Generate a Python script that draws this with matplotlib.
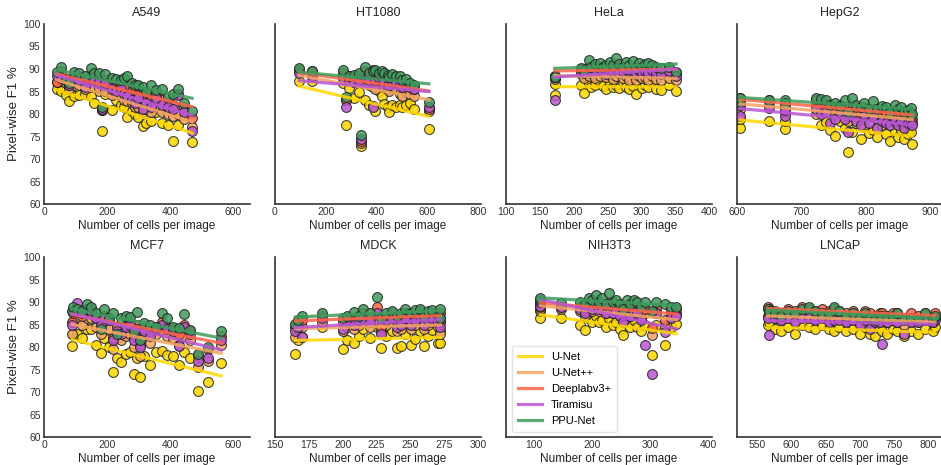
import numpy as np
import matplotlib.pyplot as plt
from matplotlib.lines import Line2D

plt.rcParams['font.family'] = ['Liberation Sans', 'DejaVu Sans']

models = ['U-Net', 'U-Net++', 'Deeplabv3+', 'Tiramisu', 'PPU-Net']
colors = ['gold', 'sandybrown', 'tomato', 'mediumorchid', '#3f9a5c']

# ---- data (cells per image, pixel-wise F1 %) ----
a549_cells = [40, 55, 70, 80, 95, 110, 130, 150, 160, 175, 185, 195, 215, 230, 245,
              255, 265, 280, 290, 300, 315, 325, 340, 355, 375, 395, 410, 425, 445, 470]
a549_f1 = {
    'U-Net': [85.5, 85.0, 84.2, 82.8, 84.0, 84.2, 84.5, 84.0, 82.5, 85.2, 76.2, 84.5, 80.8, 83.0, 82.0,
              81.5, 79.3, 80.6, 80.0, 79.4, 77.3, 78.0, 78.5, 80.5, 78.0, 77.5, 74.0, 77.5, 79.8, 73.8],
    'U-Net++': [87.0, 87.5, 86.8, 85.5, 86.5, 86.5, 85.5, 86.0, 86.0, 85.8, 80.8, 85.2, 84.2, 84.5, 84.0,
                83.2, 82.8, 82.5, 81.5, 81.5, 80.5, 81.0, 80.5, 81.8, 80.5, 80.0, 79.5, 80.0, 79.0, 77.2],
    'Deeplabv3+': [87.2, 89.5, 87.8, 86.5, 88.5, 88.5, 87.5, 88.6, 88.0, 87.2, 80.8, 87.5, 86.5, 86.0, 86.5,
                   85.5, 86.5, 85.2, 85.0, 84.2, 84.5, 83.5, 84.0, 84.5, 83.2, 82.5, 82.0, 84.5, 81.5, 79.2],
    'Tiramisu': [88.5, 88.0, 87.5, 86.5, 88.0, 87.5, 86.0, 88.0, 87.5, 87.0, 81.2, 86.8, 85.5, 85.0, 85.5,
                 84.5, 84.0, 83.0, 82.5, 83.5, 81.0, 82.5, 81.5, 83.5, 82.0, 81.5, 81.0, 84.3, 80.5, 76.2],
    'PPU-Net': [89.3, 90.5, 87.5, 86.8, 89.3, 89.0, 88.5, 90.2, 89.0, 89.1, 81.5, 88.8, 88.0, 87.8, 87.5,
                88.0, 88.4, 86.8, 86.5, 86.5, 86.0, 84.8, 86.5, 85.3, 85.5, 83.8, 84.5, 85.6, 82.5, 80.6],
}

ht1080_cells = [95, 144, 268, 281, 290, 310, 330, 340, 355, 370, 385, 395, 410, 420, 430,
                445, 450, 460, 475, 490, 500, 515, 530, 545, 605]
ht1080_f1 = {
    'U-Net': [87.4, 87.4, 86.9, 77.6, 85.8, 83.5, 84.8, 72.8, 83.2, 82.0, 81.7, 80.7, 85.0, 84.0, 82.3,
              81.5, 80.5, 82.0, 81.5, 82.0, 81.5, 82.0, 82.5, 81.2, 76.7],
    'U-Net++': [89.5, 89.0, 88.5, 83.0, 87.5, 87.0, 87.5, 73.5, 87.0, 86.5, 86.0, 85.5, 87.5, 87.0, 86.0,
                85.5, 85.0, 86.0, 85.5, 84.5, 84.0, 85.0, 84.5, 84.0, 80.6],
    'Deeplabv3+': [89.8, 89.5, 89.0, 83.2, 88.5, 88.0, 88.5, 74.0, 89.5, 88.0, 89.8, 88.5, 88.5, 88.0, 87.5,
                   87.0, 86.5, 87.5, 87.5, 86.5, 86.0, 86.5, 86.0, 85.5, 81.0],
    'Tiramisu': [89.0, 88.5, 88.0, 81.6, 87.5, 87.0, 87.5, 74.5, 88.0, 87.5, 81.6, 87.5, 88.0, 87.5, 87.0,
                 86.5, 86.5, 87.0, 87.0, 86.5, 86.0, 86.5, 86.0, 85.5, 81.6],
    'PPU-Net': [90.2, 89.6, 89.8, 83.8, 88.5, 88.6, 89.0, 75.3, 90.5, 89.0, 89.5, 89.8, 89.0, 89.5, 89.0,
                88.6, 88.2, 88.8, 88.5, 88.4, 87.5, 87.8, 86.8, 86.5, 82.6],
}

hela_cells = [172, 172, 210, 215, 222, 226, 232, 238, 243, 248, 253, 258, 262, 267,
              272, 277, 282, 287, 292, 296, 300, 305, 310, 315, 322, 328, 340, 351]
hela_f1 = {
    'U-Net': [86.7, 84.3, 86.5, 84.7, 86.8, 86.0, 86.5, 87.0, 86.2, 85.5, 86.8, 86.0, 86.5, 85.8,
              87.2, 86.0, 85.5, 86.3, 84.5, 86.8, 85.8, 86.5, 86.0, 87.0, 85.5, 85.3, 86.5, 85.2],
    'U-Net++': [88.0, 87.8, 88.8, 88.0, 88.5, 89.0, 88.0, 88.5, 89.0, 88.2, 88.8, 87.8, 88.5, 89.0,
                88.0, 88.5, 87.5, 88.8, 87.5, 88.5, 88.0, 88.2, 87.5, 88.5, 87.8, 87.5, 88.0, 87.5],
    'Deeplabv3+': [88.4, 88.2, 90.0, 89.5, 90.5, 90.0, 89.8, 90.5, 90.0, 89.5, 90.2, 90.0, 90.5, 89.8,
                   90.0, 90.5, 89.5, 90.0, 89.5, 90.2, 89.8, 90.0, 89.5, 90.0, 89.5, 89.2, 89.8, 89.0],
    'Tiramisu': [88.2, 83.0, 89.5, 89.0, 90.0, 89.5, 89.5, 90.0, 89.5, 88.8, 89.8, 89.5, 90.0, 89.2,
                 89.5, 90.0, 89.8, 89.5, 89.0, 89.8, 89.2, 89.5, 89.0, 89.8, 89.2, 88.8, 89.5, 88.5],
    'PPU-Net': [88.5, 88.3, 90.2, 89.8, 91.9, 90.5, 91.0, 91.3, 90.5, 90.8, 91.5, 90.8, 92.4, 91.0,
                90.5, 91.5, 90.8, 91.7, 90.2, 91.3, 90.5, 91.0, 91.3, 90.8, 90.5, 90.2, 90.5, 89.3],
}

hepg2_cells = [605, 605, 650, 675, 675, 722, 730, 738, 745, 752, 760, 768, 772, 778, 785,
               792, 798, 805, 812, 818, 825, 832, 838, 845, 850, 855, 860, 865, 870, 872]
hepg2_f1 = {
    'U-Net': [76.9, 79.0, 78.4, 76.7, 78.5, 80.0, 77.5, 78.2, 76.5, 75.2, 78.5, 77.0, 71.5, 76.0, 78.0,
              74.5, 77.2, 75.8, 76.5, 75.0, 77.5, 75.5, 74.0, 76.2, 75.0, 76.5, 74.5, 75.5, 76.0, 73.3],
    'U-Net++': [81.0, 82.5, 82.0, 80.5, 81.5, 82.0, 81.0, 81.5, 80.5, 80.0, 81.0, 80.5, 78.5, 80.0, 80.5,
                79.0, 80.5, 79.5, 80.0, 79.0, 80.0, 79.5, 78.5, 79.5, 79.0, 79.0, 78.5, 79.0, 79.0, 78.0],
    'Deeplabv3+': [82.0, 83.5, 83.0, 81.5, 82.5, 83.0, 82.0, 82.5, 81.5, 81.0, 82.0, 81.5, 79.5, 81.0, 81.5,
                   80.0, 81.5, 80.5, 81.0, 80.0, 81.0, 80.5, 79.5, 80.5, 80.0, 80.0, 79.5, 80.0, 80.0, 79.0],
    'Tiramisu': [79.6, 82.0, 81.3, 79.6, 80.8, 81.0, 80.0, 80.5, 78.0, 79.0, 80.5, 79.0, 76.0, 79.5, 78.5,
                 77.5, 80.0, 78.0, 79.5, 77.0, 78.5, 78.0, 77.5, 78.5, 77.5, 78.5, 77.0, 78.0, 78.5, 77.5],
    'PPU-Net': [82.6, 83.5, 83.2, 83.2, 82.5, 83.5, 83.3, 83.0, 82.0, 82.5, 81.8, 83.0, 80.5, 83.5, 82.0,
                81.5, 82.5, 81.0, 82.8, 81.0, 81.8, 81.5, 80.5, 82.0, 81.0, 81.5, 80.5, 80.8, 81.3, 80.0],
}

mcf7_cells = [90, 92, 105, 120, 135, 150, 165, 180, 190, 205, 220, 232, 245, 260, 272,
              285, 295, 305, 318, 335, 355, 375, 390, 410, 430, 445, 465, 490, 520, 562]
mcf7_f1 = {
    'U-Net': [80.2, 82.8, 83.0, 82.0, 84.0, 84.0, 80.5, 78.7, 82.0, 80.0, 74.4, 77.5, 76.7, 78.5, 79.0,
              74.0, 77.5, 73.3, 78.0, 75.9, 78.8, 79.2, 78.3, 78.0, 76.0, 78.8, 77.5, 70.2, 72.3, 76.5],
    'U-Net++': [83.0, 85.5, 86.0, 85.0, 86.5, 86.5, 84.5, 83.0, 85.0, 84.0, 79.5, 82.0, 81.5, 82.5, 83.0,
                80.0, 82.5, 78.0, 82.5, 81.0, 83.0, 83.5, 82.5, 82.0, 80.5, 82.5, 81.5, 75.5, 77.0, 80.5],
    'Deeplabv3+': [85.5, 87.5, 88.0, 87.0, 88.5, 88.5, 86.5, 85.5, 87.0, 86.5, 82.0, 84.5, 83.5, 85.0, 85.5,
                   82.5, 85.0, 80.5, 84.0, 83.5, 84.5, 85.5, 84.5, 84.0, 83.0, 85.0, 83.5, 78.0, 79.5, 82.5],
    'Tiramisu': [85.0, 88.0, 89.8, 87.5, 88.5, 88.0, 86.5, 85.0, 86.5, 86.0, 81.5, 83.5, 83.0, 84.5, 85.0,
                 81.5, 84.0, 80.0, 83.5, 82.5, 84.0, 85.0, 84.0, 83.5, 80.2, 84.5, 83.0, 77.0, 77.5, 81.5],
    'PPU-Net': [88.0, 88.8, 88.5, 88.0, 89.5, 89.0, 87.5, 84.0, 88.5, 86.5, 87.5, 83.0, 86.5, 87.0, 86.7,
                83.5, 87.8, 81.5, 85.3, 85.0, 84.5, 87.5, 86.5, 84.5, 84.2, 87.3, 83.8, 78.5, 80.0, 83.5],
}

mdck_cells = [165, 167, 170, 185, 200, 203, 208, 212, 215, 220, 225, 228, 232,
              236, 240, 243, 246, 250, 253, 257, 260, 263, 266, 270, 272, 272]
mdck_f1 = {
    'U-Net': [78.5, 81.6, 82.3, 84.5, 79.6, 81.5, 81.0, 82.5, 84.0, 82.0, 84.5, 79.8, 82.5,
              83.5, 79.8, 80.2, 83.0, 80.5, 81.8, 83.5, 80.3, 82.5, 83.8, 81.0, 81.0, 83.5],
    'U-Net++': [82.3, 84.0, 84.5, 85.5, 83.5, 84.5, 84.0, 85.0, 85.5, 84.5, 86.0, 83.5, 85.0,
                85.5, 83.5, 84.0, 85.5, 84.0, 85.0, 86.0, 84.0, 85.0, 85.5, 84.5, 83.0, 85.5],
    'Deeplabv3+': [84.5, 85.5, 86.0, 87.0, 85.5, 86.5, 86.0, 87.0, 87.5, 86.5, 89.0, 84.5, 86.5,
                   87.5, 85.5, 85.8, 87.5, 86.0, 87.0, 88.0, 86.0, 87.0, 87.5, 86.5, 85.5, 87.5],
    'Tiramisu': [83.5, 84.5, 82.3, 86.5, 84.0, 85.5, 85.0, 86.0, 86.5, 85.5, 87.5, 82.8, 86.0,
                 86.5, 84.5, 85.0, 86.5, 85.0, 86.0, 87.0, 85.0, 86.0, 86.5, 85.5, 84.5, 86.5],
    'PPU-Net': [85.2, 86.0, 86.8, 87.6, 86.5, 87.0, 87.8, 87.0, 88.5, 87.5, 91.1, 86.5, 87.5,
                88.0, 87.0, 87.5, 88.5, 87.5, 88.3, 88.5, 87.0, 88.0, 88.3, 87.0, 86.5, 88.5],
}

nih3t3_cells = [112, 112, 147, 180, 188, 195, 200, 207, 212, 218, 225, 230, 236, 242,
                248, 254, 260, 266, 272, 278, 285, 292, 303, 310, 326, 335, 345]
nih3t3_f1 = {
    'U-Net': [86.4, 88.0, 86.5, 85.0, 83.8, 86.5, 85.5, 87.0, 85.5, 86.0, 84.5, 86.5, 85.0, 85.5,
              84.0, 82.6, 85.5, 84.5, 86.0, 84.5, 83.5, 85.0, 78.3, 85.0, 80.5, 84.5, 85.2],
    'U-Net++': [88.5, 89.5, 88.5, 88.0, 87.0, 88.5, 88.0, 89.0, 88.0, 88.5, 87.5, 88.5, 87.5, 88.0,
                87.0, 86.0, 88.0, 87.0, 88.0, 87.5, 86.5, 87.5, 82.6, 87.5, 84.5, 87.0, 87.5],
    'Deeplabv3+': [89.0, 90.0, 89.0, 89.0, 88.0, 89.5, 89.0, 90.0, 89.0, 89.5, 88.5, 89.5, 88.5, 89.0,
                   88.0, 87.0, 89.0, 88.0, 89.0, 88.5, 87.5, 88.5, 84.2, 88.5, 86.0, 88.0, 88.5],
    'Tiramisu': [89.2, 90.0, 88.8, 88.5, 87.5, 89.0, 88.5, 89.5, 88.5, 89.0, 87.5, 89.0, 87.5, 88.0,
                 87.0, 85.5, 88.0, 87.0, 88.0, 87.5, 86.0, 80.4, 73.9, 87.5, 83.3, 86.5, 87.0],
    'PPU-Net': [90.5, 91.0, 89.8, 90.0, 89.5, 91.0, 90.5, 91.5, 90.0, 91.0, 89.5, 92.0, 90.0, 90.5,
                89.5, 88.5, 90.5, 89.5, 90.5, 90.0, 89.0, 90.0, 88.0, 90.0, 89.5, 89.0, 89.0],
}

lncap_cells = [565, 567, 575, 585, 595, 605, 615, 625, 635, 645, 655, 662, 670, 680, 690,
               700, 708, 715, 722, 730, 732, 740, 748, 755, 765, 775, 785, 795, 808, 810]
lncap_f1 = {
    'U-Net': [84.8, 85.5, 84.0, 83.5, 84.5, 83.0, 85.0, 84.5, 84.0, 85.0, 84.0, 83.5, 84.5, 83.5, 84.0,
              83.0, 84.5, 83.0, 82.5, 84.0, 83.5, 83.0, 84.0, 83.5, 82.5, 83.5, 83.0, 84.0, 83.5, 84.5],
    'U-Net++': [87.0, 87.5, 86.5, 86.0, 87.0, 86.0, 87.5, 87.0, 86.5, 87.0, 86.0, 86.5, 86.5, 86.0, 86.5,
                85.5, 86.5, 85.5, 85.5, 86.0, 86.0, 85.5, 86.0, 85.5, 85.0, 86.0, 85.5, 86.0, 85.5, 86.5],
    'Deeplabv3+': [89.0, 88.5, 88.0, 87.5, 88.5, 88.0, 89.0, 88.5, 88.0, 88.5, 88.0, 88.5, 88.0, 87.5, 88.0,
                   87.0, 88.0, 87.5, 87.0, 87.5, 87.5, 87.0, 87.5, 87.5, 86.5, 87.5, 87.0, 87.5, 86.5, 87.5],
    'Tiramisu': [86.5, 82.6, 86.5, 86.0, 86.5, 85.5, 86.5, 86.5, 86.0, 86.5, 85.5, 86.0, 86.0, 85.5, 86.0,
                 85.0, 86.0, 84.0, 85.5, 85.5, 80.6, 85.5, 86.0, 85.5, 83.0, 85.5, 85.5, 86.0, 85.5, 86.0],
    'PPU-Net': [88.5, 88.0, 87.5, 87.0, 88.0, 87.5, 88.5, 88.8, 88.0, 87.5, 87.5, 88.8, 88.0, 87.0, 87.5,
                86.5, 87.5, 86.5, 86.0, 87.0, 86.8, 86.5, 87.0, 87.5, 86.0, 86.5, 86.0, 87.5, 86.0, 86.8],
}

panels = [
    ('A549', a549_cells, a549_f1, (0, 654), [0, 200, 400, 600]),
    ('HT1080', ht1080_cells, ht1080_f1, (0, 810), [0, 200, 400, 600, 800]),
    ('HeLa', hela_cells, hela_f1, (100, 404), [100, 150, 200, 250, 300, 350, 400]),
    ('HepG2', hepg2_cells, hepg2_f1, (600, 920), [600, 700, 800, 900]),
    ('MCF7', mcf7_cells, mcf7_f1, (0, 654), [0, 200, 400, 600]),
    ('MDCK', mdck_cells, mdck_f1, (150, 302), [150, 175, 200, 225, 250, 275, 300]),
    ('NIH3T3', nih3t3_cells, nih3t3_f1, (53, 406), [100, 200, 300, 400]),
    ('LNCaP', lncap_cells, lncap_f1, (520, 822), [550, 600, 650, 700, 750, 800]),
]

fig = plt.figure(figsize=(9.41, 4.65), dpi=100)
W, H = 941, 465
for i, (name, cells, f1, xlim, xticks) in enumerate(panels):
    row, col = divmod(i, 4)
    left = 44 + col * 231
    top = 24 if row == 0 else 257
    ax = fig.add_axes([left / W, 1 - (top + 180) / H, 206 / W, 180 / H])
    x = np.array(cells, dtype=float)
    for m, c in zip(models, colors):
        y = np.array(f1[m])
        ax.scatter(x, y, s=50, color=c, edgecolor='#222222', linewidth=0.8,
                   alpha=0.85, zorder=1)
    # least-squares trend line per model, over the data range
    for m, c in zip(models, colors):
        y = np.array(f1[m])
        k, b = np.polyfit(x, y, 1)
        xx = np.array([x.min(), x.max()])
        ax.plot(xx, k * xx + b, color=c, lw=2.3, alpha=0.85, zorder=2)
    ax.set_xlim(*xlim)
    ax.set_xticks(xticks)
    ax.set_ylim(60, 100)
    ax.set_yticks(np.arange(60, 101, 5))
    ax.set_title(name, fontsize=9, color='#222222', pad=6)
    ax.set_xlabel('Number of cells per image', fontsize=8.5, color='#222222', labelpad=1.5)
    for s in ['top', 'right']:
        ax.spines[s].set_visible(False)
    for s in ['left', 'bottom']:
        ax.spines[s].set_color('#333333')
        ax.spines[s].set_linewidth(1.2)
    ax.tick_params(length=0, labelsize=7.5, colors='#333333', pad=2.5)
    if col == 0:
        ax.set_ylabel('Pixel-wise F1 %', fontsize=9.5, color='#222222', labelpad=2)
    else:
        ax.set_yticklabels([])
    if name == 'NIH3T3':
        handles = [Line2D([], [], color=c, lw=2.3, alpha=0.85) for c in colors]
        ax.legend(handles, models, loc='lower left', fontsize=8, frameon=True,
                  edgecolor='#dddddd', handlelength=2.2, borderpad=0.5,
                  labelspacing=0.55, borderaxespad=0, bbox_to_anchor=(0.03, 0.03))

fig.savefig('out.png', dpi=100, facecolor='white')
